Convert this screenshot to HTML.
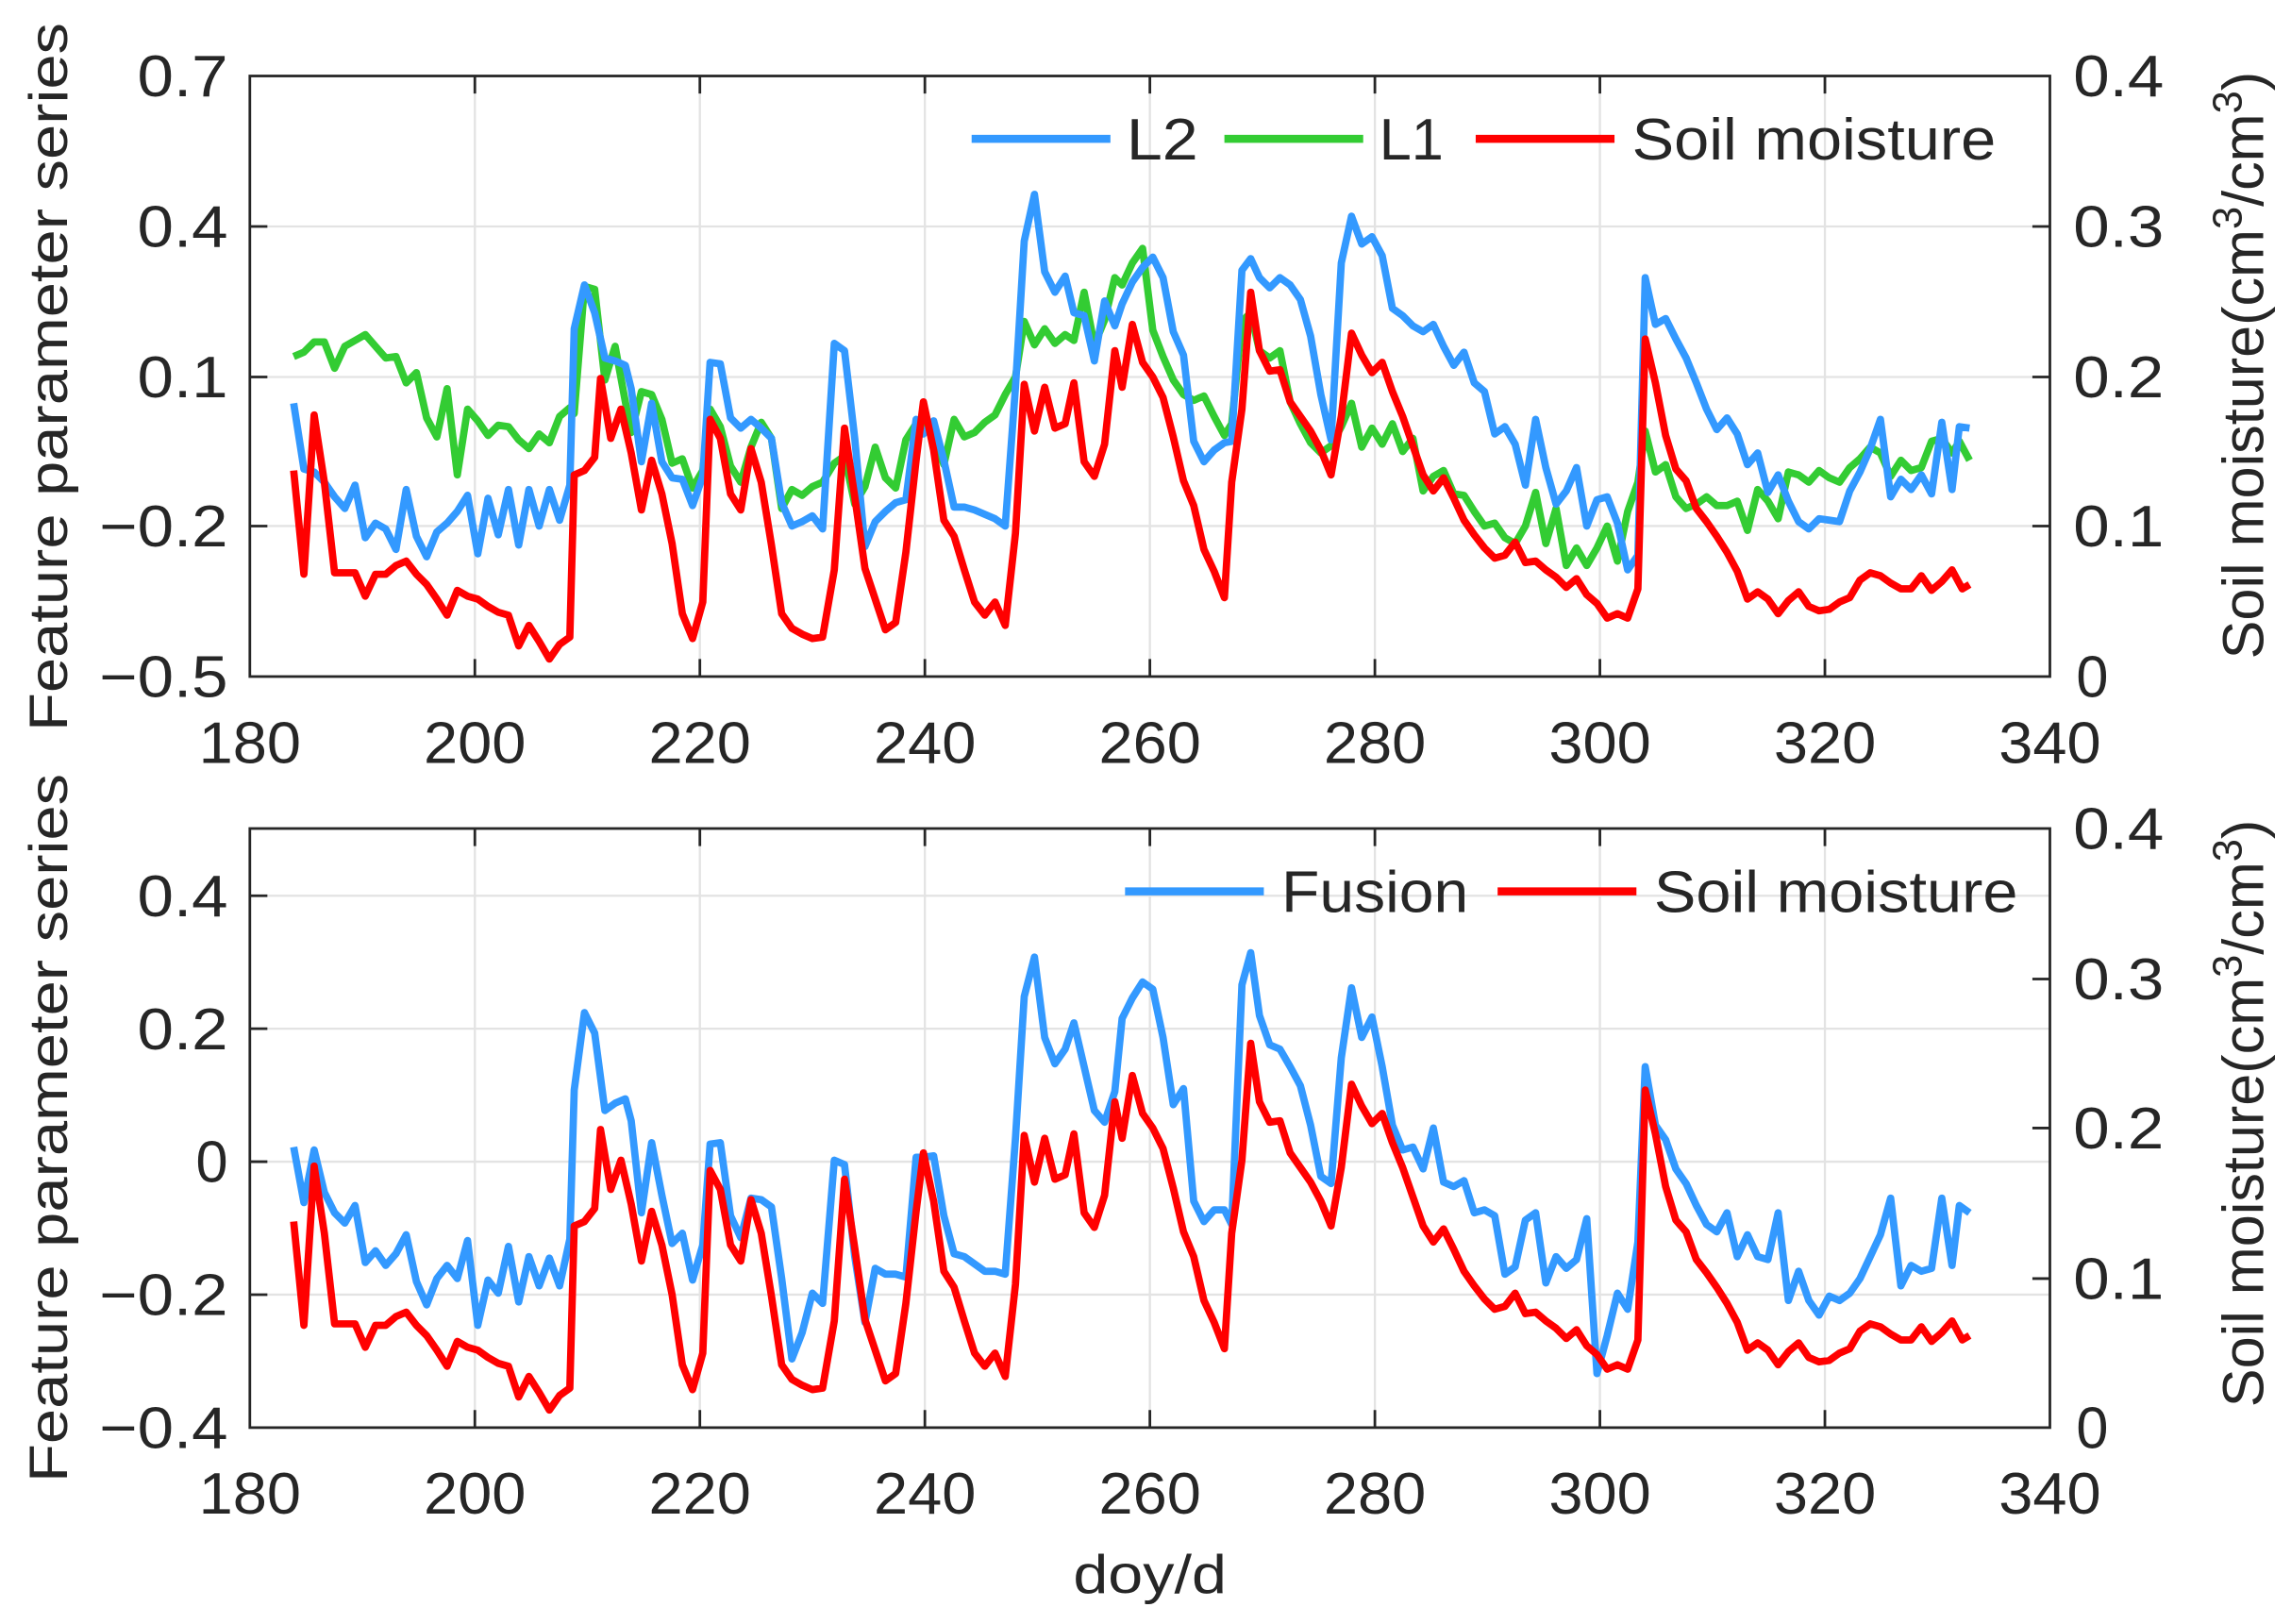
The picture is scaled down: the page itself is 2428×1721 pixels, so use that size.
<!DOCTYPE html>
<html><head><meta charset="utf-8"><style>
html,body{margin:0;padding:0;background:#fff;}
svg{display:block;}
text{font-family:"Liberation Sans",Arial,sans-serif;fill:#262626;}
.tk{font-size:40px;}
.lg{font-size:40px;fill:#000;}
.lb{font-size:37px;}
.rb{font-size:39.5px;}
</style></head><body>
<svg width="2428" height="1721" viewBox="0 0 1568 1111.4" preserveAspectRatio="none" xmlns="http://www.w3.org/2000/svg">
<rect x="0" y="0" width="1568" height="1112" fill="#fff"/>
<g stroke="#e3e3e3" stroke-width="1.5">
<line x1="325" y1="52" x2="325" y2="463"/><line x1="479" y1="52" x2="479" y2="463"/><line x1="633" y1="52" x2="633" y2="463"/><line x1="787" y1="52" x2="787" y2="463"/><line x1="941" y1="52" x2="941" y2="463"/><line x1="1095" y1="52" x2="1095" y2="463"/><line x1="1249" y1="52" x2="1249" y2="463"/>
<line x1="171" y1="155" x2="1403" y2="155"/><line x1="171" y1="258" x2="1403" y2="258"/><line x1="171" y1="360" x2="1403" y2="360"/>
</g>
<g stroke="#e3e3e3" stroke-width="1.5">
<line x1="325" y1="567" x2="325" y2="977"/><line x1="479" y1="567" x2="479" y2="977"/><line x1="633" y1="567" x2="633" y2="977"/><line x1="787" y1="567" x2="787" y2="977"/><line x1="941" y1="567" x2="941" y2="977"/><line x1="1095" y1="567" x2="1095" y2="977"/><line x1="1249" y1="567" x2="1249" y2="977"/>
<line x1="171" y1="613" x2="1403" y2="613"/><line x1="171" y1="704" x2="1403" y2="704"/><line x1="171" y1="795" x2="1403" y2="795"/><line x1="171" y1="886" x2="1403" y2="886"/>
</g>
<g fill="none" stroke-width="5" stroke-linejoin="round">
<polyline stroke="#33cc33" points="201,244 208,241 215,234 222,234 229,252 236,237 243,233 250,229 257,237 264,245 271,244 278,262 285,255 292,286 299,299 306,266 313,325 320,280 327,288 334,298 341,291 348,292 355,301 362,307 369,297 376,303 383,285 390,279 393,283 400,196 407,198 414,260 421,237 428,275 432,296 439,268 446,270 453,287 460,317 467,314 474,334 481,322 486,280 493,292 500,319 507,330 514,306 521,289 528,300 535,348 542,335 549,339 556,333 563,330 571,317 578,312 585,345 592,333 599,306 606,327 613,334 620,301 627,290 632,286 639,299 646,318 653,287 660,299 667,296 674,289 681,284 688,270 695,258 701,220 708,236 715,225 722,235 729,229 735,233 742,200 749,236 756,219 763,190 768,195 775,180 782,170 789,226 796,244 803,260 810,270 817,274 824,271 831,285 838,298 843,290 850,220 856,214 862,240 869,245 876,240 883,275 890,290 897,303 904,310 911,305 918,292 925,276 932,306 939,293 946,304 953,290 960,309 967,300 974,336 981,326 988,322 995,338 1002,339 1009,350 1016,360 1023,358 1030,368 1037,372 1044,360 1051,337 1058,372 1065,348 1072,387 1079,375 1086,387 1093,375 1100,360 1107,384 1114,350 1121,330 1126,295 1133,323 1140,318 1147,340 1154,348 1161,345 1168,340 1175,346 1182,346 1189,343 1196,363 1203,335 1210,343 1217,355 1224,323 1231,325 1238,330 1245,322 1252,327 1259,330 1266,320 1273,314 1280,306 1287,310 1294,326 1301,315 1308,322 1315,320 1322,302 1329,300 1336,310 1341,302 1348,315"/>
<polyline stroke="#3399ff" points="201,276 208,321 215,323 222,330 229,340 236,348 243,332 250,368 257,358 264,362 271,376 278,335 285,367 292,381 299,364 306,358 313,350 320,339 327,379 334,341 341,366 348,335 355,373 362,335 369,360 376,335 383,356 390,332 393,225 400,195 407,214 414,245 421,247 428,250 432,266 439,316 446,276 453,316 460,327 467,328 474,346 481,326 486,248 493,249 500,286 507,293 514,287 521,293 528,300 535,344 542,360 549,357 556,353 563,362 571,235 578,240 585,300 592,374 599,357 606,350 613,344 620,342 627,287 632,297 639,288 646,315 653,347 660,347 667,349 674,352 681,355 688,360 695,265 701,165 708,133 715,186 722,200 729,189 735,214 742,216 749,247 756,206 763,223 768,208 775,193 782,183 789,176 796,190 803,227 810,243 817,302 824,316 831,308 838,303 843,302 850,185 856,177 862,190 869,197 876,190 883,195 890,205 897,230 904,270 911,301 918,180 925,148 932,167 939,162 946,175 953,211 960,216 967,223 974,227 981,222 988,237 995,250 1002,241 1009,262 1016,268 1023,297 1030,292 1037,304 1044,332 1051,287 1058,320 1065,345 1072,336 1079,320 1086,360 1093,342 1100,340 1107,358 1114,390 1121,380 1126,190 1133,222 1140,218 1147,232 1154,245 1161,262 1168,280 1175,294 1182,286 1189,297 1196,318 1203,310 1210,337 1217,325 1224,343 1231,357 1238,362 1245,355 1252,356 1259,357 1266,336 1273,323 1280,307 1287,287 1294,340 1301,328 1308,335 1315,325 1322,338 1329,289 1336,335 1341,292 1348,293"/>
<polyline id="red" stroke="#ff0000" points="201,322 208,393 215,284 222,330 229,392 236,392 243,392 250,408 257,393 264,393 271,387 278,384 285,393 292,400 299,410 306,421 313,404 320,408 327,410 334,415 341,419 348,421 355,442 362,428 369,439 376,451 383,441 390,436 393,325 400,322 407,313 411,259 418,300 425,280 432,310 439,349 446,315 453,338 460,372 467,420 474,437 481,412 486,287 493,300 500,338 507,349 514,307 521,330 528,373 535,420 542,430 549,434 556,437 563,436 571,390 578,293 585,340 592,389 599,410 606,431 613,426 620,378 627,315 632,275 639,308 646,356 653,367 660,390 667,412 674,421 681,412 688,428 695,365 701,263 708,295 715,265 722,293 729,290 735,262 742,316 749,326 756,304 763,240 768,265 775,222 782,248 789,258 796,272 803,299 810,329 817,346 824,376 831,391 838,409 843,330 850,280 856,200 862,240 869,254 876,253 883,275 890,285 897,295 904,308 911,325 918,285 925,228 932,243 939,255 946,248 953,268 960,285 967,305 974,325 981,336 988,327 995,341 1002,356 1009,366 1016,375 1023,382 1030,380 1037,371 1044,385 1051,384 1058,390 1065,395 1072,402 1079,396 1086,407 1093,413 1100,423 1107,420 1114,423 1121,403 1126,232 1133,262 1140,298 1147,321 1154,329 1161,348 1168,357 1175,367 1182,378 1189,391 1196,410 1203,405 1210,410 1217,420 1224,411 1231,405 1238,415 1245,418 1252,417 1259,412 1266,409 1273,397 1280,392 1287,394 1294,399 1301,403 1308,403 1315,394 1322,404 1329,398 1336,390 1343,403 1348,400"/>
</g>
<g fill="none" stroke-width="5" stroke-linejoin="round">
<polyline stroke="#3399ff" points="201,785 208,823 215,787 222,816 229,830 236,837 243,825 250,864 257,856 264,866 271,858 278,845 285,877 292,893 299,875 306,866 313,875 320,849 327,907 334,876 341,885 348,853 355,891 362,860 369,880 376,861 383,880 390,848 393,746 400,693 407,707 414,760 421,755 428,752 432,767 439,830 446,782 453,818 460,851 467,844 474,876 481,852 486,783 493,782 500,832 507,847 514,820 521,821 528,826 535,875 542,930 549,912 556,885 563,892 571,794 578,797 585,860 592,905 599,868 606,872 613,872 620,874 627,792 632,792 639,791 646,832 653,858 660,860 667,865 674,870 681,870 688,872 695,779 701,682 708,655 715,710 722,728 729,718 735,700 742,730 749,760 756,768 763,747 768,697 775,683 782,672 789,677 796,710 803,756 810,745 817,822 824,836 831,828 838,828 843,838 850,674 856,652 862,695 869,715 876,718 883,730 890,743 897,770 904,805 911,810 918,724 925,676 932,710 939,696 946,730 953,770 960,787 967,785 974,800 981,772 988,809 995,812 1002,808 1009,830 1016,828 1023,832 1030,872 1037,867 1044,835 1051,830 1058,878 1065,860 1072,868 1079,862 1086,834 1093,940 1100,914 1107,885 1114,896 1121,850 1126,730 1133,770 1140,780 1147,800 1154,810 1161,825 1168,838 1175,843 1182,830 1189,860 1196,845 1203,860 1210,862 1217,830 1224,890 1231,870 1238,890 1245,900 1252,887 1259,890 1266,885 1273,875 1280,860 1287,845 1294,820 1301,880 1308,866 1315,870 1322,868 1329,820 1336,866 1341,825 1348,830"/>
<use href="#red" transform="translate(0,514)"/>
</g>
<g fill="none" stroke="#262626" stroke-width="1.8">
<rect x="171" y="52" width="1232" height="411"/>
<rect x="171" y="567" width="1232" height="410"/>
</g>
<g stroke="#262626" stroke-width="1.8">
<path d="M325,463v-12M479,463v-12M633,463v-12M787,463v-12M941,463v-12M1095,463v-12M1249,463v-12M325,52v12M479,52v12M633,52v12M787,52v12M941,52v12M1095,52v12M1249,52v12
M171,155h12M171,258h12M171,360h12M1403,155h-12M1403,258h-12M1403,360h-12"/>
<path d="M325,977v-12M479,977v-12M633,977v-12M787,977v-12M941,977v-12M1095,977v-12M1249,977v-12M325,567v12M479,567v12M633,567v12M787,567v12M941,567v12M1095,567v12M1249,567v12
M171,613h12M171,704h12M171,795h12M171,886h12M1403,670h-12M1403,772h-12M1403,875h-12"/>
</g>
<g class="tk" text-anchor="end">
<text x="156" y="66" textLength="62" lengthAdjust="spacingAndGlyphs">0.7</text>
<text x="156" y="169" textLength="62" lengthAdjust="spacingAndGlyphs">0.4</text>
<text x="156" y="272" textLength="62" lengthAdjust="spacingAndGlyphs">0.1</text>
<text x="156" y="374" textLength="88" lengthAdjust="spacingAndGlyphs">−0.2</text>
<text x="156" y="477" textLength="88" lengthAdjust="spacingAndGlyphs">−0.5</text>
<text x="156" y="627" textLength="62" lengthAdjust="spacingAndGlyphs">0.4</text>
<text x="156" y="718" textLength="62" lengthAdjust="spacingAndGlyphs">0.2</text>
<text x="156" y="809" textLength="22" lengthAdjust="spacingAndGlyphs">0</text>
<text x="156" y="900" textLength="88" lengthAdjust="spacingAndGlyphs">−0.2</text>
<text x="156" y="991" textLength="88" lengthAdjust="spacingAndGlyphs">−0.4</text>
</g>
<g class="tk" text-anchor="start">
<text x="1419" y="66" textLength="62" lengthAdjust="spacingAndGlyphs">0.4</text>
<text x="1419" y="169" textLength="62" lengthAdjust="spacingAndGlyphs">0.3</text>
<text x="1419" y="272" textLength="62" lengthAdjust="spacingAndGlyphs">0.2</text>
<text x="1419" y="374" textLength="62" lengthAdjust="spacingAndGlyphs">0.1</text>
<text x="1421" y="477" textLength="22" lengthAdjust="spacingAndGlyphs">0</text>
<text x="1419" y="581" textLength="62" lengthAdjust="spacingAndGlyphs">0.4</text>
<text x="1419" y="684" textLength="62" lengthAdjust="spacingAndGlyphs">0.3</text>
<text x="1419" y="786" textLength="62" lengthAdjust="spacingAndGlyphs">0.2</text>
<text x="1419" y="889" textLength="62" lengthAdjust="spacingAndGlyphs">0.1</text>
<text x="1421" y="991" textLength="22" lengthAdjust="spacingAndGlyphs">0</text>
</g>
<g class="tk" text-anchor="middle">
<text x="171" y="522" textLength="70" lengthAdjust="spacingAndGlyphs">180</text><text x="325" y="522" textLength="70" lengthAdjust="spacingAndGlyphs">200</text><text x="479" y="522" textLength="70" lengthAdjust="spacingAndGlyphs">220</text><text x="633" y="522" textLength="70" lengthAdjust="spacingAndGlyphs">240</text><text x="787" y="522" textLength="70" lengthAdjust="spacingAndGlyphs">260</text><text x="941" y="522" textLength="70" lengthAdjust="spacingAndGlyphs">280</text><text x="1095" y="522" textLength="70" lengthAdjust="spacingAndGlyphs">300</text><text x="1249" y="522" textLength="70" lengthAdjust="spacingAndGlyphs">320</text><text x="1403" y="522" textLength="70" lengthAdjust="spacingAndGlyphs">340</text>
<text x="171" y="1036" textLength="70" lengthAdjust="spacingAndGlyphs">180</text><text x="325" y="1036" textLength="70" lengthAdjust="spacingAndGlyphs">200</text><text x="479" y="1036" textLength="70" lengthAdjust="spacingAndGlyphs">220</text><text x="633" y="1036" textLength="70" lengthAdjust="spacingAndGlyphs">240</text><text x="787" y="1036" textLength="70" lengthAdjust="spacingAndGlyphs">260</text><text x="941" y="1036" textLength="70" lengthAdjust="spacingAndGlyphs">280</text><text x="1095" y="1036" textLength="70" lengthAdjust="spacingAndGlyphs">300</text><text x="1249" y="1036" textLength="70" lengthAdjust="spacingAndGlyphs">320</text><text x="1403" y="1036" textLength="70" lengthAdjust="spacingAndGlyphs">340</text>
</g>
<text class="lb" x="787" y="1090" text-anchor="middle" textLength="105" lengthAdjust="spacingAndGlyphs">doy/d</text>
<text class="lb" transform="translate(46,258) rotate(-90)" text-anchor="middle" textLength="485" lengthAdjust="spacingAndGlyphs">Feature parameter series</text>
<text class="lb" transform="translate(46,772) rotate(-90)" text-anchor="middle" textLength="485" lengthAdjust="spacingAndGlyphs">Feature parameter series</text>
<text class="rb" transform="translate(1549,250) rotate(-90)" text-anchor="middle">Soil moisture(cm<tspan font-size="28" dy="-15">3</tspan><tspan dy="15">/cm</tspan><tspan font-size="28" dy="-15">3</tspan><tspan dy="15">)</tspan></text>
<text class="rb" transform="translate(1549,762) rotate(-90)" text-anchor="middle">Soil moisture(cm<tspan font-size="28" dy="-15">3</tspan><tspan dy="15">/cm</tspan><tspan font-size="28" dy="-15">3</tspan><tspan dy="15">)</tspan></text>
<g stroke-width="5.5">
<line x1="665" y1="95" x2="760" y2="95" stroke="#3399ff"/>
<line x1="838" y1="95" x2="933" y2="95" stroke="#33cc33"/>
<line x1="1010" y1="95" x2="1105" y2="95" stroke="#ff0000"/>
<line x1="770" y1="610" x2="865" y2="610" stroke="#3399ff"/>
<line x1="1025" y1="610" x2="1120" y2="610" stroke="#ff0000"/>
</g>
<g class="lg">
<text x="771" y="109" textLength="49" lengthAdjust="spacingAndGlyphs">L2</text>
<text x="944" y="109" textLength="44" lengthAdjust="spacingAndGlyphs">L1</text>
<text x="1117" y="109" textLength="249" lengthAdjust="spacingAndGlyphs">Soil moisture</text>
<text x="877" y="624" textLength="128" lengthAdjust="spacingAndGlyphs">Fusion</text>
<text x="1132" y="624" textLength="249" lengthAdjust="spacingAndGlyphs">Soil moisture</text>
</g>
</svg>
</body></html>
